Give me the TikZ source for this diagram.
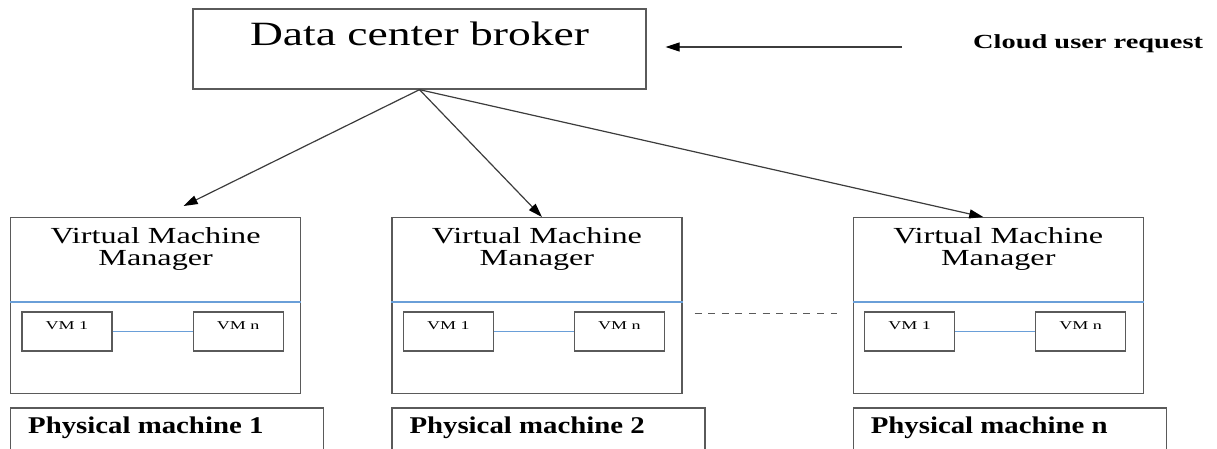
\documentclass[tikz,border=0pt]{standalone}
\usepackage{fontspec}
\setmainfont{Liberation Serif}
\usepackage{graphicx}
\usetikzlibrary{arrows.meta, positioning}
\definecolor{boxGray}{HTML}{5A5A5A}
\definecolor{lineBlue}{HTML}{6A9FD8}
\definecolor{arrowGray}{HTML}{3C3C3C}
\newcommand{\widen}[2][1.4]{\scalebox{#1}[1]{#2}}

\begin{document}
\begin{tikzpicture}[x=1pt, y=-1pt,
  every node/.style={inner sep=0pt, text=black},
  boxNode/.style={draw=boxGray, line width=1.3pt},
  vmmNode/.style={boxNode, minimum width=290pt, minimum height=176pt, anchor=north west},
  vmNode/.style={boxNode, line width=1.1pt, minimum width=90pt, minimum height=39pt, label={[vmLabel]north:\widen[1.5]{#1}}},
  vmLabel/.style={anchor=north, inner ysep=10pt, font=\fontsize{12}{12}\selectfont},
  pmNode/.style={boxNode, minimum width=313pt, minimum height=60pt},
  vmmText/.style={anchor=north, align=center, font=\fontsize{23}{22}\selectfont},
  pmText/.style={anchor=base west, font=\fontsize{24}{24}\selectfont\bfseries},
  sepLine/.style={draw=lineBlue, line width=1.2pt},
  arrowLine/.style={draw=arrowGray, line width=1.2pt, -{Triangle[length=14pt, width=9pt, color=black]}},
  gapLine/.style={draw=boxGray, line width=1.2pt, dash pattern=on 7pt off 6.6pt}
]
  \useasboundingbox (0,0) rectangle (1217,448);
  \clip (0,0) rectangle (1217,448);

  % broker and request
  \node[boxNode, minimum width=453pt, minimum height=80pt] (broker) at (419.5,49) {};
  \node[anchor=north, font=\fontsize{34}{34}\selectfont] (brokerLbl) at ([shift={(0,13)}]broker.north) {\widen[1.34]{Data center broker}};
  \node[anchor=base west, font=\fontsize{20}{20}\selectfont\bfseries] (reqLbl) at (973,48) {\widen[1.42]{Cloud user request}};
  \draw[arrowLine] ([shift={(-71,-1)}]reqLbl.base west) -- ([shift={(19,-2)}]broker.east);

  % virtual machine managers
  \node[vmmNode] (vmm1) at (10,217) {};
  \node[vmmNode, right=90pt of vmm1] (vmm2) {};
  \node[vmmNode, right=170pt of vmm2] (vmm3) {};
  \node[vmmText] (vmmLbl1) at ([shift={(0,10)}]vmm1.north) {\widen{Virtual Machine}\\\widen{Manager}};
  \node[vmmText] (vmmLbl2) at ([shift={(0,10)}]vmm2.north) {\widen{Virtual Machine}\\\widen{Manager}};
  \node[vmmText] (vmmLbl3) at ([shift={(0,10)}]vmm3.north) {\widen{Virtual Machine}\\\widen{Manager}};
  \draw[sepLine] ([shift={(0,85)}]vmm1.north west) -- ([shift={(0,85)}]vmm1.north east);
  \draw[sepLine] ([shift={(0,85)}]vmm2.north west) -- ([shift={(0,85)}]vmm2.north east);
  \draw[sepLine] ([shift={(0,85)}]vmm3.north west) -- ([shift={(0,85)}]vmm3.north east);

  % virtual machines
  \node[vmNode=VM 1] (vmOne1) at ([shift={(57,114.5)}]vmm1.north west) {};
  \node[vmNode=VM n, right=80pt of vmOne1] (vmN1) {};
  \node[vmNode=VM 1] (vmOne2) at ([shift={(57,114.5)}]vmm2.north west) {};
  \node[vmNode=VM n, right=80pt of vmOne2] (vmN2) {};
  \node[vmNode=VM 1] (vmOne3) at ([shift={(57,114.5)}]vmm3.north west) {};
  \node[vmNode=VM n, right=80pt of vmOne3] (vmN3) {};
  \draw[sepLine] (vmOne1.east) -- (vmN1.west);
  \draw[sepLine] (vmOne2.east) -- (vmN2.west);
  \draw[sepLine] (vmOne3.east) -- (vmN3.west);

  % physical machines
  \node[pmNode, below=13pt of vmm1.south west, anchor=north west] (pm1) {};
  \node[pmNode, below=13pt of vmm2.south west, anchor=north west] (pm2) {};
  \node[pmNode, below=13pt of vmm3.south west, anchor=north west] (pm3) {};
  \node[pmText] (pmLbl1) at ([shift={(18,26)}]pm1.north west) {\widen[1.2]{Physical machine 1}};
  \node[pmText] (pmLbl2) at ([shift={(18,26)}]pm2.north west) {\widen[1.2]{Physical machine 2}};
  \node[pmText] (pmLbl3) at ([shift={(18,26)}]pm3.north west) {\widen[1.2]{Physical machine n}};

  % connectors
  \draw[arrowLine] (broker.south) -- ([shift={(28,-11)}]vmm1.north);
  \draw[arrowLine] (broker.south) -- ([shift={(5,0)}]vmm2.north);
  \draw[arrowLine] (broker.south) -- ([shift={(-15,0)}]vmm3.north);
  \draw[gapLine] ([shift={(12,8)}]vmm2.east) -- ([shift={(-16,8)}]vmm3.west);
\end{tikzpicture}
\end{document}
